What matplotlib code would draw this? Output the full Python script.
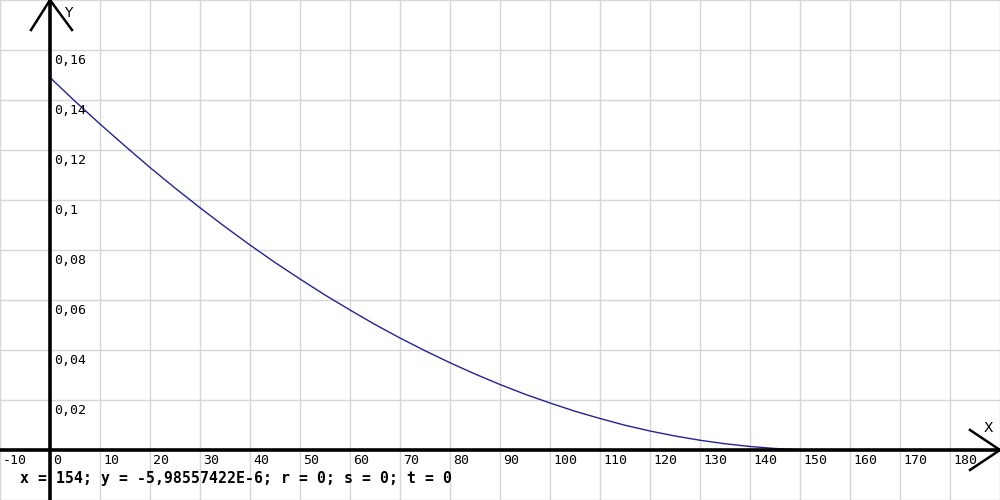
import matplotlib
matplotlib.use("Agg")
import matplotlib.pyplot as plt
import numpy as np

# Curve values
x_vals = [0, 5, 10, 15, 20, 25, 30, 35, 40, 45, 50, 55, 60, 65, 70, 75, 80,
          85, 90, 95, 100, 105, 110, 115, 120, 125, 130, 135, 140, 145, 150, 154]
y_vals = [0.1490, 0.1395, 0.1304, 0.1216, 0.1130, 0.1048, 0.0969, 0.0893,
          0.0820, 0.0750, 0.0684, 0.0620, 0.0560, 0.0502, 0.0448, 0.0397,
          0.0349, 0.0304, 0.0262, 0.0223, 0.0188, 0.0155, 0.0126, 0.0099,
          0.0076, 0.0056, 0.0039, 0.0025, 0.0014, 0.0006, 0.00015, 0.0]

x_ticks = list(range(-10, 190, 10))
x_tick_labels = [str(v) for v in x_ticks]
y_ticks = [0.02, 0.04, 0.06, 0.08, 0.10, 0.12, 0.14, 0.16]
y_tick_labels = ["0,02", "0,04", "0,06", "0,08", "0,1", "0,12", "0,14", "0,16"]
status_text = "x = 154; y = -5,98557422E-6; r = 0; s = 0; t = 0"

XMIN, XMAX = -10, 190
YMIN, YMAX = -0.02, 0.18

fig = plt.figure(figsize=(10, 5), dpi=100)
ax = fig.add_axes([0, 0, 1, 1])
ax.set_xlim(XMIN, XMAX)
ax.set_ylim(YMIN, YMAX)
ax.axis("off")

grid_c = "#d6d6d6"
for gx in range(-10, 200, 10):
    if gx != 0:
        ax.axvline(gx, color=grid_c, lw=1.0, zorder=1)
for gy in np.arange(-0.02, 0.1801, 0.02):
    if abs(gy) > 1e-9:
        ax.axhline(gy, color=grid_c, lw=1.0, zorder=1)

# axes
ax.plot([0, 0], [YMIN, YMAX], color="black", lw=2.6, zorder=3, solid_capstyle="butt")
ax.plot([XMIN, XMAX], [0, 0], color="black", lw=2.6, zorder=3, solid_capstyle="butt")

# arrows (pixel-based offsets converted to data units)
px = (XMAX - XMIN) / 1000.0
py = (YMAX - YMIN) / 500.0
ax.plot([-19 * px, 0, 22 * px], [YMAX - 30 * py, YMAX, YMAX - 30 * py],
        color="black", lw=1.8, zorder=4, solid_joinstyle="miter")
ax.plot([XMAX - 30 * px, XMAX, XMAX - 30 * px], [20 * py, 0, -20 * py],
        color="black", lw=1.8, zorder=4, solid_joinstyle="miter")
ax.text(18 * px, YMAX - 13 * py, "Y", fontsize=10, family="DejaVu Sans",
        ha="center", va="center", zorder=5)
ax.text(XMAX - 12 * px, 22 * py, "X", fontsize=10, family="DejaVu Sans",
        ha="center", va="center", zorder=5)

# curve
ax.plot(x_vals, y_vals, color="#23229a", lw=1.0, zorder=2)

# tick labels
for v, lab in zip(x_ticks, x_tick_labels):
    ax.text(v + 3 * px, -11 * py, lab, fontsize=9.5, family="DejaVu Sans Mono",
            ha="left", va="center", zorder=5)
for v, lab in zip(y_ticks, y_tick_labels):
    ax.text(4 * px, v - 11 * py, lab, fontsize=9.5, family="DejaVu Sans Mono",
            ha="left", va="center", zorder=5)

ax.text(XMIN + 20 * px, -29 * py, status_text, fontsize=10.75,
        family="DejaVu Sans Mono", fontweight="bold", ha="left", va="center",
        zorder=5)

fig.savefig("out.png", dpi=100)
